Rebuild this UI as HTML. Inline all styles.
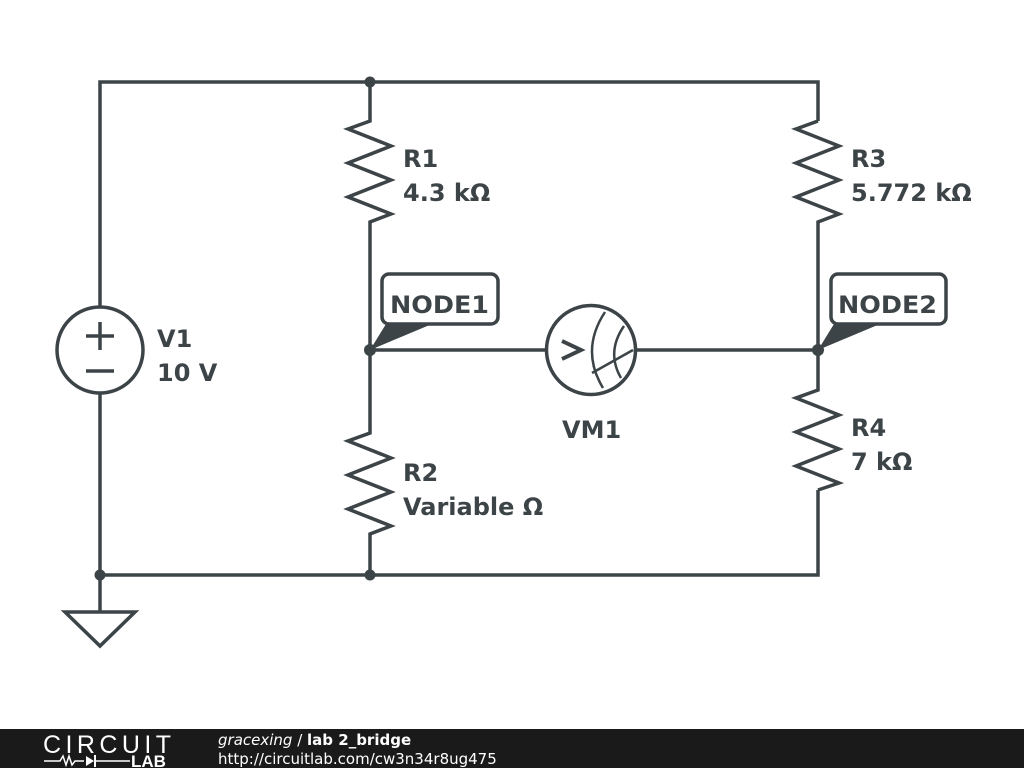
<!DOCTYPE html>
<html><head><meta charset="utf-8"><style>
html,body{margin:0;padding:0;background:#fff;width:1024px;height:768px;overflow:hidden}
svg{display:block}
text{font-family:"DejaVu Sans","Liberation Sans",sans-serif;font-weight:bold;fill:#3c4448}
</style></head><body>
<svg width="1024" height="768" viewBox="0 0 1024 768">
<g stroke="#3c4448" stroke-width="3.5" fill="none" stroke-linejoin="miter">
<polyline points="100,307 100,82 818,82 818,121"/>
<polyline points="100,393 100,575 818,575 818,490"/>
<line x1="100" y1="575" x2="100" y2="612"/>
<polygon points="65,612 135,612 100,646"/>
<polyline points="370,82 370,121 348,129 391,146 348,163 391,180 348,197 391,214 370,222 370,433 348,441 391,458 348,475 391,492 348,509 391,526 370,534 370,575"/>
<polyline points="818,121 796,129 839,146 796,163 839,180 796,197 839,214 818,222 818,390 796,398 839,415 796,432 839,449 796,466 839,483 818,490"/>
<line x1="370" y1="350" x2="547" y2="350"/>
<line x1="636" y1="350" x2="818" y2="350"/>
<circle cx="100" cy="350" r="43"/>
<line x1="86" y1="336" x2="114" y2="336"/><line x1="100" y1="322" x2="100" y2="350"/>
<line x1="86" y1="371" x2="114" y2="371"/>
<circle cx="591" cy="350" r="44.5"/>
<path d="M605,312 Q580,350 603,388" stroke-width="2.5"/>
<path d="M624,326 Q606,352 621,378" stroke-width="2.5"/>
<line x1="592" y1="373" x2="633" y2="350" stroke-width="2.5"/>
<polyline points="562,341 581,350 562,359" stroke-width="4"/>
<rect x="382" y="274" width="116" height="50" rx="7"/>
<rect x="831" y="274" width="115" height="50" rx="7"/>
</g>
<g fill="#3c4448">
<circle cx="370" cy="82" r="5.5"/><circle cx="100" cy="575" r="5.5"/><circle cx="370" cy="575" r="5.5"/>
<circle cx="370" cy="350" r="6"/><circle cx="818" cy="350" r="6"/>
<polygon points="370,350 386,324 432,324"/>
<polygon points="818,350 834,324 880,324"/>
</g>
<g font-size="24">
<text x="390" y="313" textLength="99" lengthAdjust="spacingAndGlyphs">NODE1</text>
<text x="838" y="313" textLength="99" lengthAdjust="spacingAndGlyphs">NODE2</text>
<text x="403" y="167">R1</text>
<text x="403" y="201">4.3 kΩ</text>
<text x="851" y="167">R3</text>
<text x="851" y="201">5.772 kΩ</text>
<text x="403" y="481">R2</text>
<text x="403" y="515">Variable Ω</text>
<text x="851" y="436">R4</text>
<text x="851" y="470">7 kΩ</text>
<text x="157" y="347">V1</text>
<text x="157" y="381">10 V</text>
<text x="562" y="438">VM1</text>
</g>
<rect x="0" y="729" width="1024" height="39" fill="#1a1a1a"/>
<text x="43" y="753" font-size="25" style="font-weight:normal;fill:#fff;font-family:'Liberation Sans',sans-serif" textLength="128">CIRCUIT</text>
<g stroke="#fff" stroke-width="1.5" fill="none"><polyline points="44,761 60,761 63,756 66,765 69,756 72,765 75,761 84,761"/><line x1="96" y1="761" x2="130" y2="761"/></g>
<polygon points="86,756 86,766 94,761" fill="#fff"/><rect x="94" y="755" width="2" height="12" fill="#fff"/>
<text x="131" y="767" font-size="17" style="fill:#fff;font-family:'Liberation Sans',sans-serif">LAB</text>
<text x="218" y="745" font-size="15" style="fill:#fff;font-weight:normal"><tspan font-style="italic">gracexing</tspan> / <tspan font-weight="bold">lab 2_bridge</tspan></text>
<text x="218" y="764" font-size="15" style="fill:#fff;font-weight:normal">http://circuitlab.com/cw3n34r8ug475</text>
</svg>
</body></html>
